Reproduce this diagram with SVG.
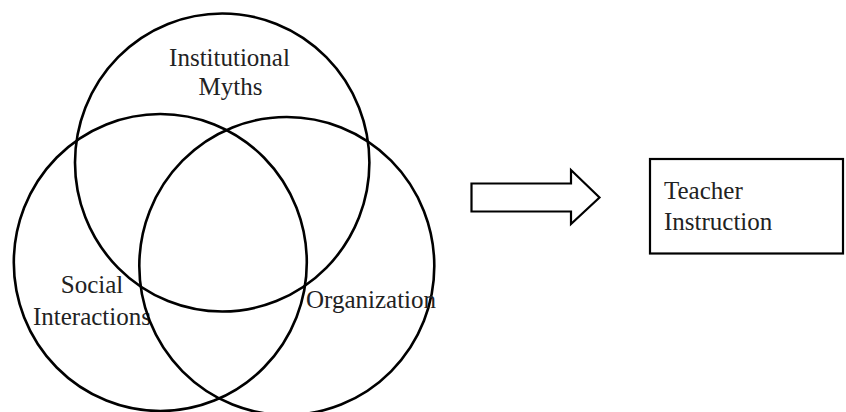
<svg xmlns="http://www.w3.org/2000/svg" width="846" height="412" viewBox="0 0 846 412">
  <style>
    .ring { fill: none; stroke: #000; stroke-width: 2.6; }
    .shape { fill: #fff; stroke: #000; stroke-width: 2.2; }
    .lbl { font-family: "Liberation Serif", "Times New Roman", serif; font-size: 25px; fill: #222; }
  </style>
  <rect width="846" height="412" fill="#fff"/>

  <g id="institutional-myths">
    <ellipse class="ring" cx="222.2" cy="162.5" rx="147.2" ry="149"/>
    <text class="lbl" x="229.5" y="66" text-anchor="middle">Institutional</text>
    <text class="lbl" x="230.5" y="95" text-anchor="middle">Myths</text>
  </g>

  <g id="social-interactions">
    <ellipse class="ring" cx="160.3" cy="262.5" rx="146.5" ry="148.5"/>
    <text class="lbl" x="92" y="293" text-anchor="middle">Social</text>
    <text class="lbl" x="92" y="325" text-anchor="middle">Interactions</text>
  </g>

  <g id="organization">
    <ellipse class="ring" cx="286.8" cy="266" rx="147.5" ry="149"/>
    <text class="lbl" x="306" y="308">Organization</text>
  </g>

  <g id="connectors">
    <path class="shape" d="M471.5,183.5 H571 V170 L599.5,197.5 L571,224 V211.5 H471.5 Z"/>
  </g>

  <g id="teacher-instruction">
    <rect class="shape" x="650" y="159" width="193" height="94.5" stroke-width="2.6"/>
    <text class="lbl" x="664" y="199">Teacher</text>
    <text class="lbl" x="664" y="230">Instruction</text>
  </g>
</svg>
